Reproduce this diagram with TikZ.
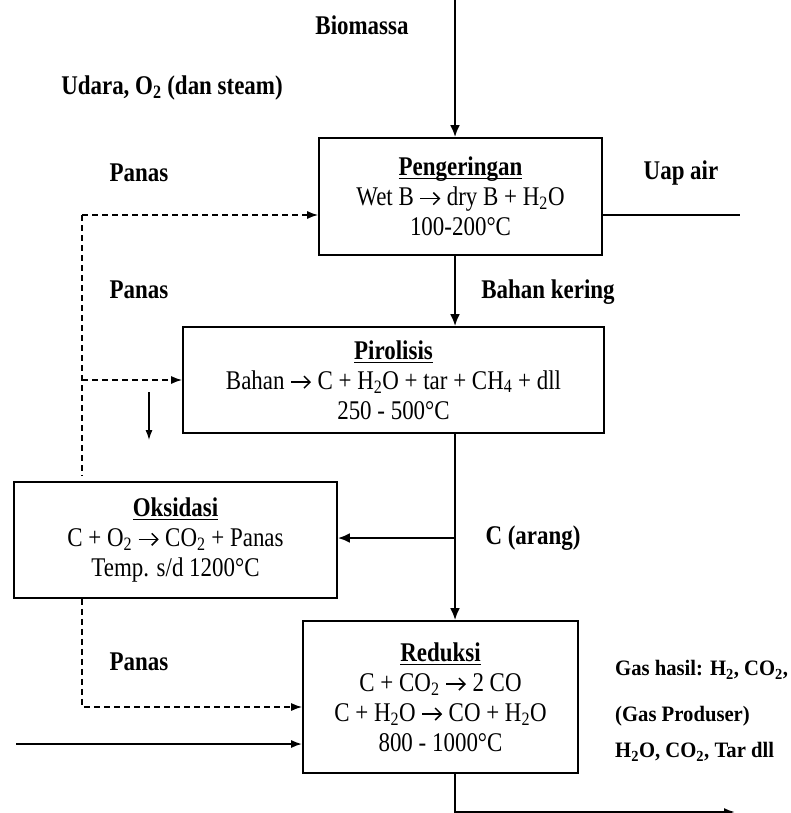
\documentclass[tikz,border=0pt]{standalone}
\usepackage{fontspec}
\setmainfont[FakeStretch=0.85]{Liberation Serif}
\newfontfamily\gasfont[FakeStretch=0.94]{Liberation Serif}
\usetikzlibrary{arrows.meta,calc}
\tikzset{every picture/.append style={font=\fontsize{27}{30}\selectfont}}
\newcommand{\stagetitle}[1]{\underline{\smash{\textbf{#1}}\rule[-1.5pt]{0pt}{19.9pt}}}
\newcommand{\yields}{\tikz[baseline=-7pt]\draw[line width=1.5pt,-{Straight Barb[length=6pt,width=12pt]}] (0pt,0pt) -- (20pt,0pt);}

\begin{document}
\begin{tikzpicture}[x=1pt,y=-1pt,
    stagebox/.style={draw,line width=1.6pt,inner sep=0pt,align=center},
    lbl/.style={font=\fontsize{27}{30}\selectfont\bfseries,inner sep=0pt},
    gaslbl/.style={font=\gasfont\fontsize{22}{26}\selectfont\bfseries,inner sep=0pt,anchor=west},
    mainflow/.style={line width=2.6pt,-{Latex[length=12pt,width=10pt]}},
    sideflow/.style={line width=1.8pt,-{Latex[length=11pt,width=8pt]}},
    heatflow/.style={line width=1.6pt,dash pattern=on 6pt off 4pt}]
    \useasboundingbox (0,0) rectangle (791,813);

    % tahap proses
    \node[stagebox,minimum width=283pt,minimum height=117pt] (peng) at (460.5,196.5)
      {\stagetitle{Pengeringan}\\Wet B \yields{} dry B + H\textsubscript{2}O\\100-200°C};
    \node[stagebox,minimum width=421pt,minimum height=106pt] (piro) at (393.5,380)
      {\stagetitle{Pirolisis}\\Bahan \yields{} C + H\textsubscript{2}O + tar + CH\textsubscript{4} + dll\\250 - 500°C};
    \node[stagebox,minimum width=323pt,minimum height=116pt] (oks) at (175.5,540)
      {\stagetitle{Oksidasi}\\C + O\textsubscript{2} \yields{} CO\textsubscript{2} + Panas\\Temp. s/d 1200°C};
    \node[stagebox,minimum width=275pt,minimum height=152pt] (red) at (440.5,697)
      {\stagetitle{Reduksi}\\C + CO\textsubscript{2} \yields{} 2 CO\\C + H\textsubscript{2}O \yields{} CO + H\textsubscript{2}O\\800 - 1000°C};

    \coordinate (bioin) at (455,0);
    \coordinate (uapout) at (740,215);
    \coordinate (heattop) at (82,215);
    \coordinate (heatbot) at (82,707);
    \coordinate (airin) at (16,744);
    \coordinate (gasout) at (735,812);
    \coordinate (dropA) at (149,392);
    \coordinate (dropB) at (149,440);
    \coordinate (charA) at (455,538);

    % aliran utama
    \draw[mainflow] (bioin) -- (bioin |- peng.north);
    \draw[line width=2.6pt] (uapout -| peng.east) -- (uapout);
    \draw[mainflow] (bioin |- peng.south) -- (bioin |- piro.north);
    \draw[mainflow] (bioin |- piro.south) -- (bioin |- red.north);
    \draw[mainflow] (charA) -- (charA -| oks.east);
    \draw[sideflow] (airin) -- (airin -| red.west);
    \draw[sideflow] (bioin |- red.south) -- (bioin |- gasout) -- (gasout);
    \draw[line width=1.2pt,-{Latex[length=10pt,width=7pt]}] (dropA) -- (dropB);

    % panas
    \draw[heatflow,-{Latex[length=11pt,width=8pt]}] (heattop) -- (heattop -| peng.west);
    \draw[heatflow,shorten >=5pt] (heattop) -- (heattop |- oks.north);
    \draw[heatflow,-{Latex[length=11pt,width=8pt]}] (heattop |- piro.west) -- (piro.west);
    \draw[heatflow,-{Latex[length=11pt,width=8pt]}] (heattop |- oks.south) -- (heatbot) -- (heatbot -| red.west);

    % label
    \node[lbl] (biolbl) at (362,25) {Biomassa};
    \node[lbl] (udaralbl) at (172,88) {Udara, O\textsubscript{2} (dan steam)};
    \node[lbl] (panasA) at (139,173) {Panas};
    \node[lbl] (uaplbl) at (681,173) {Uap air};
    \node[lbl] (panasB) at (139,290) {Panas};
    \node[lbl] (keringlbl) at (548,292) {Bahan kering};
    \node[lbl] (aranglbl) at (533,538) {C (arang)};
    \node[lbl] (panasC) at (139,662) {Panas};
    \node[gaslbl] (gasA) at (615,670) {Gas hasil: H\textsubscript{2}, CO\textsubscript{2},};
    \node[gaslbl] (gasB) at (615,716) {(Gas Produser)};
    \node[gaslbl] (gasC) at (615,752) {H\textsubscript{2}O, CO\textsubscript{2}, Tar dll};
\end{tikzpicture}
\end{document}
